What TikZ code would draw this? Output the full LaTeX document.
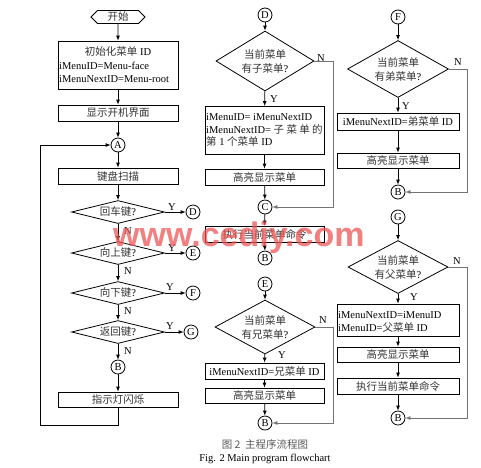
\documentclass[tikz,border=0pt]{standalone}
\usepackage{fontspec}
\setmainfont{Liberation Serif}
\newfontfamily\cjk{Noto Sans CJK SC}
\newfontfamily\wmfont{Liberation Sans}
\usetikzlibrary{shapes.geometric,shapes.symbols,arrows.meta}
\newcommand{\zh}[1]{{\cjk\color{black!80}#1}}
\tikzset{
  every node/.style={font=\fontsize{10.5}{12}\selectfont, inner sep=0pt},
  ln/.style={line width=0.8pt},
  arr/.style={ln, -{Latex[length=5pt,width=4pt]}},
  garr/.style={line width=0.8pt, draw=black!55, -{Latex[length=5pt,width=4pt]}},
  box/.style={draw, ln, minimum height=16pt},
  lbox/.style={box, minimum width=120pt},
  mbox/.style={box, minimum width=119pt},
  rbox/.style={box, minimum width=122pt},
  conn/.style={draw, ln, circle, minimum size=14pt},
  flatdia/.style={draw, ln, diamond, aspect=4, minimum width=93pt, minimum height=23pt},
  talldia/.style={draw, ln, diamond, aspect=1.6, align=center},
  lab/.style={font=\fontsize{10.5}{12}\selectfont},
}
\begin{document}
\begin{tikzpicture}[x=1pt,y=-1pt]
\useasboundingbox (0,0) rectangle (481,467);
% ---------------- left column ----------------
\node[draw, ln, signal, signal to=west and east, minimum width=54pt, minimum height=13pt] (start) at (118,17) {\zh{开始}};
\node[lbox, minimum height=48pt] (init) at (118,65) {};
\node (initt1) at (118,52) {\zh{初始化菜单} ID};
\node[anchor=west] (initt2) at (59,66) {iMenuID=Menu-face};
\node[anchor=west] (initt3) at (59,79) {iMenuNextID=Menu-root};
\node[lbox] (disp) at (118,113) {\zh{显示开机界面}};
\node[conn] (cA) at (118,145) {A};
\node[lbox] (scan) at (118,176) {\zh{键盘扫描}};
\node[flatdia] (d1) at (118,212) {\zh{回车键}?};
\node[flatdia] (d2) at (118,253) {\zh{向上键}?};
\node[flatdia] (d3) at (118,293) {\zh{向下键}?};
\node[flatdia] (d4) at (118,332) {\zh{返回键}?};
\node[conn] (cB1) at (118,367) {B};
\node[lbox, minimum height=15pt] (blink) at (118,399.5) {\zh{指示灯闪烁}};
\node[conn] (cD0) at (193,212) {D};
\node[conn] (cE0) at (193,253) {E};
\node[conn] (cF0) at (193,293) {F};
\node[conn] (cG0) at (191,332) {G};

\draw[arr] (start) -- (init);
\draw[arr] (init) -- (disp);
\draw[arr] (disp) -- (cA);
\draw[arr] (cA) -- (scan);
\draw[arr] (scan) -- (d1);
\draw[arr] (d1) -- (d2);
\draw[arr] (d2) -- (d3);
\draw[arr] (d3) -- (d4);
\draw[arr] (d4) -- (cB1);
\draw[arr] (cB1) -- (blink);
\draw[arr] (blink.south) |- (40,425) |- (cA.west);
\draw[arr] (d1.east) -- (cD0);
\draw[arr] (d2.east) -- (cE0);
\draw[arr] (d3.east) -- (cF0);
\draw[arr] (d4.east) -- (cG0);
\node[lab] (y1) at (172,207) {Y};
\node[lab] (y2) at (172,248) {Y};
\node[lab] (y3) at (170,287) {Y};
\node[lab] (y4) at (170,326) {Y};
\node[lab] (n1) at (128,231) {N};
\node[lab] (n2) at (128,271) {N};
\node[lab] (n3) at (128,311) {N};
\node[lab] (n4) at (128,351) {N};

% ---------------- middle column ----------------
\node[conn] (cD) at (265,15) {D};
\node[talldia, minimum width=98pt, minimum height=60pt] (md1) at (265,61) {\zh{当前菜单}\\[2pt]\zh{有子菜单}?};
\node[mbox, minimum height=48pt] (mb1) at (264.5,130.5) {};
\node[anchor=west] (mb1t1) at (206,117) {iMenuID= iMenuNextID};
\node[anchor=west] (mb1t2) at (206,129) {iMenuNextID= \zh{子\ 菜\ 单\ 的}};
\node[anchor=west] (mb1t3) at (206,141) {\zh{第} 1 \zh{个菜单} ID};
\node[mbox] (mb2) at (264.5,177) {\zh{高亮显示菜单}};
\node[conn] (cC) at (265,207) {C};
\node[mbox] (mb3) at (264.5,234) {\zh{执行当前菜单命令}};
\node[conn] (cB2) at (265,258) {B};
\node[conn] (cE) at (265,284) {E};
\node[talldia, minimum width=100pt, minimum height=54pt] (md2) at (265,327) {\zh{当前菜单}\\[2pt]\zh{有兄菜单}?};
\node[mbox] (mb4) at (264.5,371) {iMenuNextID=\zh{兄菜单} ID};
\node[mbox, minimum height=15pt] (mb5) at (264.5,395.5) {\zh{高亮显示菜单}};
\node[conn] (cB3) at (265,423) {B};

\draw[arr] (cD) -- (md1);
\draw[arr] (md1) -- (mb1);
\draw[arr] (mb1) -- (mb2);
\draw[arr] (mb2) -- (cC);
\draw[arr] (cC) -- (mb3);
\draw[arr] (mb3) -- (cB2);
\draw[garr] (md1.east) -- (333,61) |- (cC.east);
\draw[arr] (cE) -- (md2);
\draw[arr] (md2) -- (mb4);
\draw[arr] (mb4) -- (mb5);
\draw[arr] (mb5) -- (cB3);
\draw[garr] (md2.east) -- (333,327) |- (cB3.east);
\node[lab] (my1) at (274,99) {Y};
\node[lab] (mn1) at (321,58) {N};
\node[lab] (my2) at (282,355) {Y};
\node[lab] (mn2) at (323,320) {N};

% ---------------- right column ----------------
\node[conn] (cF) at (398,17) {F};
\node[talldia, minimum width=101pt, minimum height=57pt] (rd1) at (398,69) {\zh{当前菜单}\\[2pt]\zh{有弟菜单}?};
\node[rbox, minimum height=17pt] (rb1) at (398,121.5) {iMenuNextID=\zh{弟菜单} ID};
\node[rbox, minimum height=15pt] (rb2) at (398,160.5) {\zh{高亮显示菜单}};
\node[conn] (cB4) at (398,192) {B};
\node[conn] (cG) at (398,217) {G};
\node[talldia, minimum width=100pt, minimum height=53pt] (rd2) at (398,267) {\zh{当前菜单}\\[2pt]\zh{有父菜单}?};
\node[rbox, minimum height=32pt] (rb3) at (398,320) {};
\node[anchor=west] (rb3t1) at (338,315) {iMenuNextID=iMenuID};
\node[anchor=west] (rb3t2) at (338,328) {iMenuID=\zh{父菜单} ID};
\node[rbox, minimum height=15pt] (rb4) at (398,354.5) {\zh{高亮显示菜单}};
\node[rbox] (rb5) at (398,386) {\zh{执行当前菜单命令}};
\node[conn] (cB5) at (398,418) {B};

\draw[arr] (cF) -- (rd1);
\draw[arr] (rd1) -- (rb1);
\draw[arr] (rb1) -- (rb2);
\draw[arr] (rb2) -- (cB4);
\draw[garr] (rd1.east) -- (467,69) |- (cB4.east);
\draw[arr] (cG) -- (rd2);
\draw[arr] (rd2) -- (rb3);
\draw[arr] (rb3) -- (rb4);
\draw[arr] (rb4) -- (rb5);
\draw[arr] (rb5) -- (cB5);
\draw[garr] (rd2.east) -- (467,267) |- (cB5.east);
\node[lab] (ry1) at (406,106) {Y};
\node[lab] (rn1) at (458,62) {N};
\node[lab] (ry2) at (414,297) {Y};
\node[lab] (rn2) at (457,261) {N};

% ---------------- caption ----------------
\node (cap1) at (265,444) {{\cjk\color{black!65}图 2\ \ 主程序流程图}};
\node (cap2) at (265,459) {Fig. 2 Main program flowchart};

% ---------------- watermark ----------------
\node[anchor=base west, text={rgb,255:red,238;green,85;blue,85}, opacity=0.75, font=\wmfont\bfseries\fontsize{34}{38}\selectfont] (wm) at (113,246) {www.cediy.com};
\end{tikzpicture}
\end{document}
